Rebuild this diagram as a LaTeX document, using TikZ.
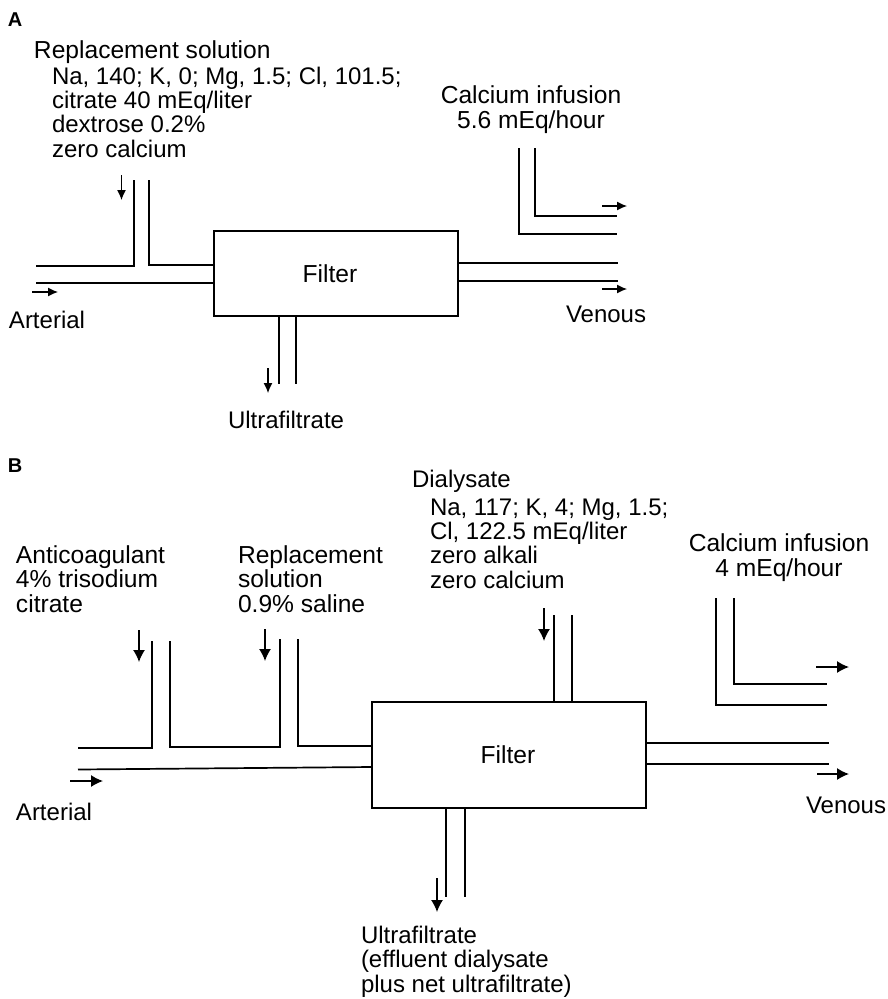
\documentclass[tikz,border=0pt]{standalone}
\usepackage{fontspec}
\setmainfont{Liberation Sans}
\usetikzlibrary{arrows.meta}
\tikzset{
  tube/.style={line width=1.7pt,line cap=butt,line join=miter},
  flow/.style={line width=1.2pt,-{Latex[length=10pt,width=9pt]}},
  flowb/.style={line width=1.4pt,-{Latex[length=12pt,width=12pt]}},
  txt/.style={anchor=base west,inner sep=0pt,outer sep=0pt,font=\fontsize{24}{24.3}\selectfont,align=left},
  hd/.style={txt,font=\fontsize{24.6}{24.3}\selectfont},
  ctr/.style={anchor=base,inner sep=0pt,outer sep=0pt,font=\fontsize{24.6}{24.3}\selectfont,align=center},
  panel/.style={anchor=base west,inner sep=0pt,outer sep=0pt,font=\fontsize{20}{22}\selectfont\bfseries},
  filterbox/.style={draw,line width=1.7pt,inner sep=0pt,font=\fontsize{24.6}{24}\selectfont}
}
\begin{document}
\begin{tikzpicture}[x=1pt,y=-1pt]
\useasboundingbox (0,0) rectangle (887,999);
% Panel A
\node[panel] (pa) at (8,26) {A};
\node[hd] (repA) at (34,58) {Replacement solution};
\node[txt] (repAb) at (52,157) {Na, 140; K, 0; Mg, 1.5; Cl, 101.5;\\citrate 40 mEq/liter\\dextrose 0.2\%\\zero calcium};
\node[ctr] (calA) at (531,128) {Calcium infusion\\5.6 mEq/hour};
\node[filterbox,minimum width=244pt,minimum height=85pt] (fA) at (336,273.5) {Filter\hspace*{12pt}};
\node[txt] (artA) at (9,328) {Arterial};
\node[txt] (venA) at (566,322) {Venous};
\node[txt] (ufA) at (228,428) {Ultrafiltrate};
\coordinate (a1) at (36,266); \coordinate (a2) at (134,266); \coordinate (a3) at (134,180);
\coordinate (a4) at (149,180); \coordinate (a5) at (149,265);
\coordinate (a6) at (36,283);
\draw[tube] (a1) -- (a2) -- (a3);
\draw[tube] (a4) -- (a5) -- (a5 -| fA.west);
\draw[tube] (a6) -- (a6 -| fA.west);
\coordinate (a7) at (618,263); \coordinate (a8) at (618,281);
\draw[tube] (a7 -| fA.east) -- (a7);
\draw[tube] (a8 -| fA.east) -- (a8);
\coordinate (a9) at (279,384); \coordinate (a10) at (296,384);
\draw[tube] (a9 |- fA.south) -- (a9);
\draw[tube] (a10 |- fA.south) -- (a10);
\coordinate (a11) at (519,148); \coordinate (a12) at (519,234); \coordinate (a13) at (617,234);
\coordinate (a14) at (535,148); \coordinate (a15) at (535,216); \coordinate (a16) at (617,216);
\draw[tube] (a11) -- (a12) -- (a13);
\draw[tube] (a14) -- (a15) -- (a16);
\coordinate (fa1) at (32,292); \coordinate (fa1e) at (58,292);
\coordinate (fa2) at (121.5,175); \coordinate (fa2e) at (121.5,200);
\coordinate (fa3) at (268,368); \coordinate (fa3e) at (268,393);
\coordinate (fa4) at (602,206); \coordinate (fa4e) at (627,206);
\coordinate (fa5) at (602,289); \coordinate (fa5e) at (627,289);
\draw[flow] (fa1) -- (fa1e);
\draw[flow] (fa2) -- (fa2e);
\draw[flow] (fa3) -- (fa3e);
\draw[flow] (fa4) -- (fa4e);
\draw[flow] (fa5) -- (fa5e);
% Panel B
\node[panel] (pb) at (8,472) {B};
\node[txt] (dial) at (412,487) {Dialysate};
\node[txt] (dialb) at (430,588) {Na, 117; K, 4; Mg, 1.5;\\Cl, 122.5 mEq/liter\\zero alkali\\zero calcium};
\node[hd] (anti) at (16,612) {Anticoagulant\\4\% trisodium\\citrate};
\node[hd] (repB) at (238,612) {Replacement\\solution\\0.9\% saline};
\node[ctr] (calB) at (779,576) {Calcium infusion\\4 mEq/hour};
\node[filterbox,minimum width=274pt,minimum height=106pt] (fB) at (509,755) {Filter\hspace*{2pt}};
\node[txt] (artB) at (16,820) {Arterial};
\node[txt] (venB) at (806,813) {Venous};
\node[txt] (ufB) at (361,992) {Ultrafiltrate\\(effluent dialysate\\plus net ultrafiltrate)};
\coordinate (b1) at (78,748); \coordinate (b2) at (152,748); \coordinate (b3) at (152,641);
\coordinate (b4) at (170,641); \coordinate (b5) at (170,747); \coordinate (b6) at (280,747); \coordinate (b7) at (280,639);
\coordinate (b8) at (298,639); \coordinate (b9) at (298,746);
\coordinate (b10) at (78,769.5); \coordinate (b10e) at (372,767);
\draw[tube] (b1) -- (b2) -- (b3);
\draw[tube] (b4) -- (b5) -- (b6) -- (b7);
\draw[tube] (b8) -- (b9) -- (b9 -| fB.west);
\draw[tube] (b10) -- (b10e);
\coordinate (b11) at (829,743); \coordinate (b12) at (829,764);
\draw[tube] (b11 -| fB.east) -- (b11);
\draw[tube] (b12 -| fB.east) -- (b12);
\coordinate (b13) at (716,598); \coordinate (b14) at (716,705); \coordinate (b15) at (827,705);
\coordinate (b16) at (734,598); \coordinate (b17) at (734,684); \coordinate (b18) at (827,684);
\draw[tube] (b13) -- (b14) -- (b15);
\draw[tube] (b16) -- (b17) -- (b18);
\coordinate (b19) at (554,615); \coordinate (b20) at (572,615);
\draw[tube] (b19) -- (b19 |- fB.north);
\draw[tube] (b20) -- (b20 |- fB.north);
\coordinate (b21) at (446,897); \coordinate (b22) at (465,897);
\draw[tube] (b21 |- fB.south) -- (b21);
\draw[tube] (b22 |- fB.south) -- (b22);
\coordinate (fb1) at (70,781); \coordinate (fb1e) at (103,781);
\coordinate (fb2) at (139,630); \coordinate (fb2e) at (139,662);
\coordinate (fb3) at (265,629); \coordinate (fb3e) at (265,661);
\coordinate (fb4) at (544,608); \coordinate (fb4e) at (544,641);
\coordinate (fb5) at (437,878); \coordinate (fb5e) at (437,912);
\coordinate (fb6) at (816,667); \coordinate (fb6e) at (849,667);
\coordinate (fb7) at (817,774); \coordinate (fb7e) at (849,774);
\draw[flowb] (fb1) -- (fb1e);
\draw[flowb] (fb2) -- (fb2e);
\draw[flowb] (fb3) -- (fb3e);
\draw[flowb] (fb4) -- (fb4e);
\draw[flowb] (fb5) -- (fb5e);
\draw[flowb] (fb6) -- (fb6e);
\draw[flowb] (fb7) -- (fb7e);
\end{tikzpicture}
\end{document}
